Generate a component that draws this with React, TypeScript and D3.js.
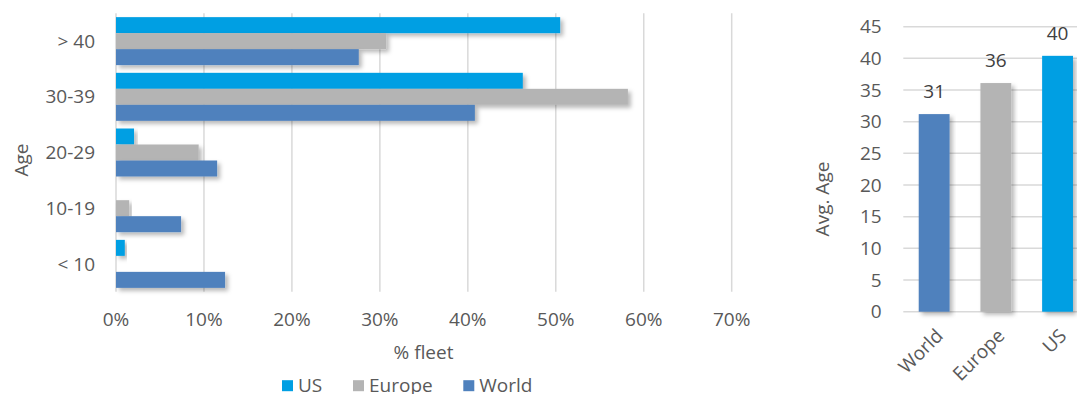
import React from "react";
import * as d3 from "d3";

const ageCategories = ["> 40", "30-39", "20-29", "10-19", "< 10"];
const seriesNames = ["US", "Europe", "World"];
const usShare = [0.505, 0.4625, 0.0205, 0, 0.01];
const europeShare = [0.307, 0.582, 0.094, 0.015, 0];
const worldShare = [0.276, 0.408, 0.115, 0.074, 0.124];
const xTicks = [0, 0.1, 0.2, 0.3, 0.4, 0.5, 0.6, 0.7];

const avgCategories = ["World", "Europe", "US"];
const avgAge = [31.2, 36.1, 40.4];
const avgLabels = ["31", "36", "40"];
const yTicksRight = [0, 5, 10, 15, 20, 25, 30, 35, 40, 45];

const colors: Record<string, string> = {
  US: "#009FE3",
  Europe: "#B4B4B4",
  World: "#4F81BD",
};

const FONT = "'Open Sans', 'Noto Sans', sans-serif";
const TICK = "#595959";
const GRID = "#D9D9D9";

export default function App() {
  const seriesValues: Record<string, number[]> = {
    US: usShare,
    Europe: europeShare,
    World: worldShare,
  };

  const x = d3.scaleLinear().domain([0, 0.7]).range([116, 731.7]);
  const y0 = d3
    .scaleBand<string>()
    .domain(ageCategories)
    .range([13.3, 291.7])
    .paddingInner(0.138)
    .paddingOuter(0.069);
  const y1 = d3
    .scaleBand<string>()
    .domain(seriesNames)
    .range([0, y0.bandwidth()]);

  const xR = d3
    .scaleBand<string>()
    .domain(avgCategories)
    .range([903.3, 1088.4])
    .paddingInner(0.5)
    .paddingOuter(0.25);
  const yR = d3.scaleLinear().domain([0, 45]).range([311.7, 26.7]);

  const pctFmt = d3.format(".0%");

  return (
    <svg
      width={1077}
      height={394}
      style={{ position: "absolute", left: 0, top: 0, background: "#fff" }}
      fontFamily={FONT}
    >
      <defs>
        <filter id="shadow" x="-10%" y="-30%" width="130%" height="180%">
          <feDropShadow dx="3" dy="3" stdDeviation="2.2" floodColor="#000" floodOpacity="0.28" />
        </filter>
      </defs>

      {/* Left chart gridlines */}
      {xTicks.map((t) => (
        <line
          key={"g" + t}
          x1={x(t)}
          x2={x(t)}
          y1={13.3}
          y2={291.7}
          stroke={GRID}
          strokeWidth={1.5}
        />
      ))}

      {/* Left bars */}
      {ageCategories.map((cat, i) => (
        <g key={cat}>
          {seriesNames.map((s) => {
            const v = seriesValues[s][i];
            if (v <= 0) return null;
            return (
              <rect
                key={s}
                x={x(0)}
                y={(y0(cat) as number) + (y1(s) as number)}
                width={x(v) - x(0)}
                height={y1.bandwidth()}
                fill={colors[s]}
                filter="url(#shadow)"
              />
            );
          })}
        </g>
      ))}

      {/* Left y labels */}
      {ageCategories.map((cat) => (
        <text
          key={"yl" + cat}
          x={95}
          y={(y0(cat) as number) + y0.bandwidth() / 2}
          dy="0.35em"
          textAnchor="end"
          fontSize={19}
          fill={TICK}
        >
          {cat}
        </text>
      ))}

      {/* Left x tick labels */}
      {xTicks.map((t) => (
        <text
          key={"xl" + t}
          x={x(t)}
          y={326}
          textAnchor="middle"
          fontSize={19}
          fill={TICK}
        >
          {pctFmt(t)}
        </text>
      ))}

      <text
        x={21}
        y={160}
        transform="rotate(-90 21 160)"
        textAnchor="middle"
        dy="0.35em"
        fontSize={19}
        fill={TICK}
      >
        Age
      </text>
      <text x={423.5} y={352} dy="0.35em" textAnchor="middle" fontSize={19} fill={TICK}>
        % fleet
      </text>

      {/* Legend */}
      {seriesNames.map((s, i) => {
        const lx = [282, 353, 463.3][i];
        return (
          <g key={"lg" + s}>
            <rect x={lx} y={380.2} width={11} height={11} fill={colors[s]} />
            <text x={lx + 16} y={391.5} fontSize={19} fill={TICK}>
              {s}
            </text>
          </g>
        );
      })}

      {/* Right chart gridlines */}
      {yTicksRight.map((t) => (
        <line
          key={"rg" + t}
          x1={903.3}
          x2={1088}
          y1={yR(t)}
          y2={yR(t)}
          stroke={GRID}
          strokeWidth={1.5}
        />
      ))}
      {yTicksRight.map((t) => (
        <text
          key={"ry" + t}
          x={881.7}
          y={yR(t)}
          dy="0.35em"
          textAnchor="end"
          fontSize={19}
          fill={TICK}
        >
          {t}
        </text>
      ))}

      {/* Right bars */}
      {avgCategories.map((c, i) => (
        <g key={"rb" + c}>
          <rect
            x={xR(c)}
            y={yR(avgAge[i])}
            width={xR.bandwidth()}
            height={yR(0) - yR(avgAge[i])}
            fill={colors[c]}
            filter="url(#shadow)"
          />
          <text
            x={(xR(c) as number) + xR.bandwidth() / 2}
            y={yR(avgAge[i]) - 16}
            textAnchor="middle"
            fontSize={19}
            fill="#404040"
          >
            {avgLabels[i]}
          </text>
        </g>
      ))}

      {/* Right x labels */}
      {avgCategories.map((c) => {
        const cx = (xR(c) as number) + xR.bandwidth() / 2 + 10;
        const cy = 337;
        return (
          <text
            key={"rx" + c}
            x={cx}
            y={cy}
            transform={`rotate(-45 ${cx} ${cy})`}
            textAnchor="end"
            fontSize={19}
            fill={TICK}
          >
            {c}
          </text>
        );
      })}

      <text
        x={822}
        y={199}
        transform="rotate(-90 822 199)"
        textAnchor="middle"
        dy="0.35em"
        fontSize={19}
        fill={TICK}
      >
        Avg. Age
      </text>
    </svg>
  );
}
